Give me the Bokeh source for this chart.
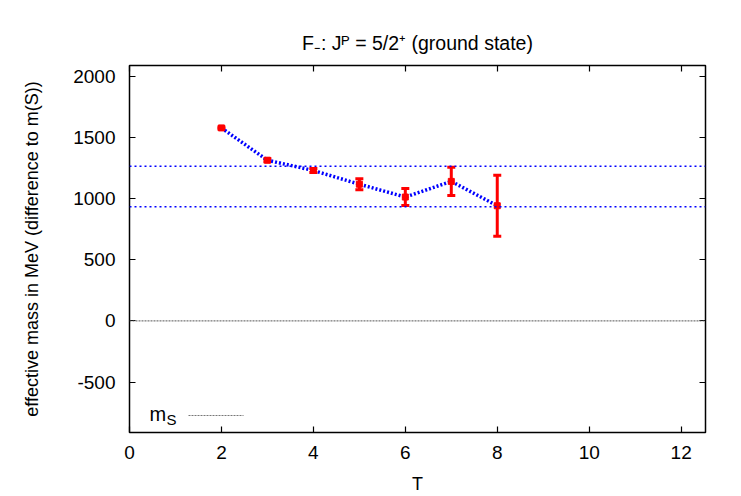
from bokeh.plotting import figure
from bokeh.models import (Range1d, LinearAxis, FixedTicker, Whisker, TeeHead, ColumnDataSource,
                          Label, Span, PrintfTickFormatter)
from bokeh.embed import file_html
from bokeh.resources import INLINE

# data
T = [2, 3, 4, 5, 6, 7, 8]
mass = [1577, 1313, 1229, 1117, 1012, 1140, 941]
err = [8, 12, 16, 45, 70, 116, 250]
plateau = [1264, 932]
m_s = 0
x_ticks = [0, 2, 4, 6, 8, 10, 12]
y_ticks = [-500, 0, 500, 1000, 1500, 2000]
X_RANGE = (0, 12.53)
Y_RANGE = (-912, 2087)

FONT = "Liberation Sans"

p = figure(width=741, height=496, output_backend="svg", toolbar_location=None,
           x_range=Range1d(*X_RANGE), y_range=Range1d(*Y_RANGE),
           min_border_left=129, min_border_right=36, min_border_top=65, min_border_bottom=64,
           x_axis_label="T", y_axis_label="effective mass in MeV (difference to m(S))",
           title="F\u208b: J\u1d3e = 5/2\u207a (ground state)")
p.grid.visible = False
p.outline_line_color = "black"
p.outline_line_width = 1.5
p.background_fill_color = "white"
p.border_fill_color = "white"

p.title.align = "center"
p.title.text_font = FONT
p.title.text_font_size = "19.5px"
p.title.text_font_style = "normal"
p.title.text_color = "black"
p.title.standoff = 24

for ax in p.xaxis + p.yaxis:
    ax.axis_line_color = None
    ax.major_tick_in = 6
    ax.major_tick_out = 0
    ax.minor_tick_line_color = None
    ax.major_tick_line_color = "black"
    ax.major_tick_line_width = 1.2
    ax.major_label_text_font = FONT
    ax.major_label_text_font_size = "19px"
    ax.major_label_text_color = "black"
    ax.axis_label_text_font = FONT
    ax.axis_label_text_font_size = "18px"
    ax.axis_label_text_font_style = "normal"
    ax.axis_label_text_color = "black"
    ax.formatter = PrintfTickFormatter(format="%d")
p.xaxis.ticker = FixedTicker(ticks=x_ticks)
p.yaxis.ticker = FixedTicker(ticks=y_ticks)
p.xaxis.major_label_standoff = 13
p.yaxis.major_label_standoff = 14
p.xaxis.axis_label_standoff = 12
p.yaxis.axis_label_standoff = 28

# mirrored ticks
top = LinearAxis(ticker=FixedTicker(ticks=x_ticks), major_label_text_font_size="0px",
                 axis_line_color=None, major_tick_in=6, major_tick_out=0,
                 minor_tick_line_color=None, major_tick_line_width=1.2, major_label_standoff=0)
right = LinearAxis(ticker=FixedTicker(ticks=y_ticks), major_label_text_font_size="0px",
                   axis_line_color=None, major_tick_in=6, major_tick_out=0,
                   minor_tick_line_color=None, major_tick_line_width=1.2, major_label_standoff=0)
p.add_layout(top, "above")
p.add_layout(right, "right")

# m_S line at 0
p.add_layout(Span(location=m_s, dimension="width", line_color="#555555", line_width=1, line_dash="2 1"))
# plateau lines
for v in plateau:
    p.add_layout(Span(location=v, dimension="width", line_color="blue", line_width=1.5, line_dash="2 3"))

src = ColumnDataSource(dict(T=T, mass=mass,
                            lo=[m - e for m, e in zip(mass, err)],
                            hi=[m + e for m, e in zip(mass, err)]))
p.line("T", "mass", source=src, line_color="blue", line_width=3.5, line_dash="2 2")
p.add_layout(Whisker(base="T", upper="hi", lower="lo", source=src, line_color="red", line_width=3,
                     upper_head=TeeHead(size=8, line_color="red", line_width=3),
                     lower_head=TeeHead(size=8, line_color="red", line_width=3)))
p.scatter("T", "mass", source=src, marker="square", size=6, color="red")

# legend
p.add_layout(Label(x=X_RANGE[0], y=Y_RANGE[0], x_offset=20, y_offset=19, text="m",
                   text_font=FONT, text_font_size="20px", text_baseline="alphabetic",
                   text_color="black"))
p.add_layout(Label(x=X_RANGE[0], y=Y_RANGE[0], x_offset=37, y_offset=13, text="S",
                   text_font=FONT, text_font_size="15px", text_baseline="alphabetic",
                   text_color="black"))
sx0 = X_RANGE[0] + (X_RANGE[1] - X_RANGE[0]) * 59 / 576
sx1 = X_RANGE[0] + (X_RANGE[1] - X_RANGE[0]) * 114 / 576
sy = Y_RANGE[0] + (Y_RANGE[1] - Y_RANGE[0]) * 17 / 367
p.segment(x0=[sx0], y0=[sy], x1=[sx1], y1=[sy], line_color="#777777", line_width=1, line_dash="2 1")

open("out.html", "w").write(file_html(p, INLINE))
